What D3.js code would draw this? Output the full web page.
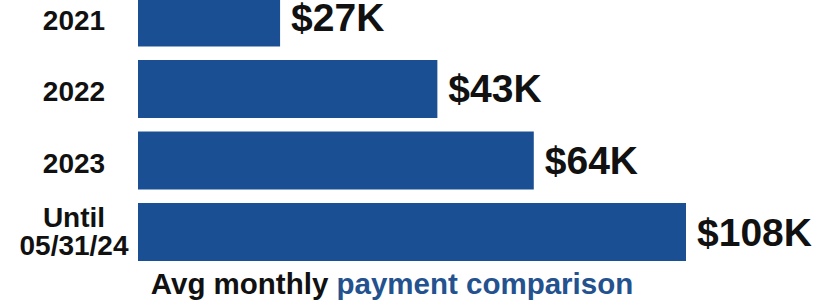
<!DOCTYPE html>
<html>
<head>
<meta charset="utf-8">
<script src="https://cdn.jsdelivr.net/npm/d3@7"></script>
<style>
  body { margin: 0; background: #fff; }
  svg { display: block; font-family: "Liberation Sans", Arial, sans-serif; font-weight: bold; }
</style>
</head>
<body>
<script>
// categories (multi-line labels split on \n)
var categories = ["2021", "2022", "2023", "Until\n05/31/24"];
// value labels shown at the bar ends ($K)
var labels = [27, 43, 64, 108];
// bar lengths as drawn in the picture, on the bar scale ($K) - the bars are not to scale
var lengths = [28, 59, 78, 108];

var w = 816, h = 307;

var svg = d3.select("body").append("svg")
    .attr("width", w)
    .attr("height", h);

var x = d3.scaleLinear()
    .domain([0, d3.max(lengths)])
    .range([138, 686]);

var y = d3.scaleBand()
    .domain(categories)
    .range([-11.5, 261])
    .paddingInner(0.189)
    .paddingOuter(0);

var rows = categories.map(function(c, i){
    return {cat: c, len: lengths[i], label: labels[i]};
});

svg.selectAll("rect")
    .data(rows)
    .enter().append("rect")
    .attr("x", x(0))
    .attr("y", function(d){ return y(d.cat); })
    .attr("width", function(d){ return x(d.len) - x(0); })
    .attr("height", y.bandwidth())
    .attr("fill", "#1b4f94");

// value labels
svg.selectAll("text.val")
    .data(rows)
    .enter().append("text")
    .attr("class", "val")
    .attr("x", function(d){ return x(d.len) + 11; })
    .attr("y", function(d){ return y(d.cat) + y.bandwidth() / 2 + 13.5; })
    .attr("font-size", 39)
    .attr("fill", "#111")
    .text(function(d){ return "$" + d.label + "K"; });

// category labels
var cat = svg.selectAll("text.cat")
    .data(rows)
    .enter().append("text")
    .attr("class", "cat")
    .attr("text-anchor", "middle")
    .attr("font-size", 28)
    .attr("fill", "#111");

cat.each(function(d){
    var lines = d.cat.split("\n");
    var mid = y(d.cat) + y.bandwidth() / 2 + 12.5;
    var start = mid - (lines.length - 1) * 28 / 2 - (lines.length > 1 ? 4 : 0);
    d3.select(this).selectAll("tspan")
        .data(lines)
        .enter().append("tspan")
        .attr("x", 74)
        .attr("y", function(l, i){ return start + i * 28; })
        .text(function(l){ return l; });
});

// title
var title = svg.append("text")
    .attr("x", 392)
    .attr("y", 294)
    .attr("text-anchor", "middle")
    .attr("font-size", 29.5);
title.append("tspan").attr("fill", "#111").text("Avg monthly ");
title.append("tspan").attr("fill", "#24528f").text("payment comparison");
</script>
</body>
</html>
